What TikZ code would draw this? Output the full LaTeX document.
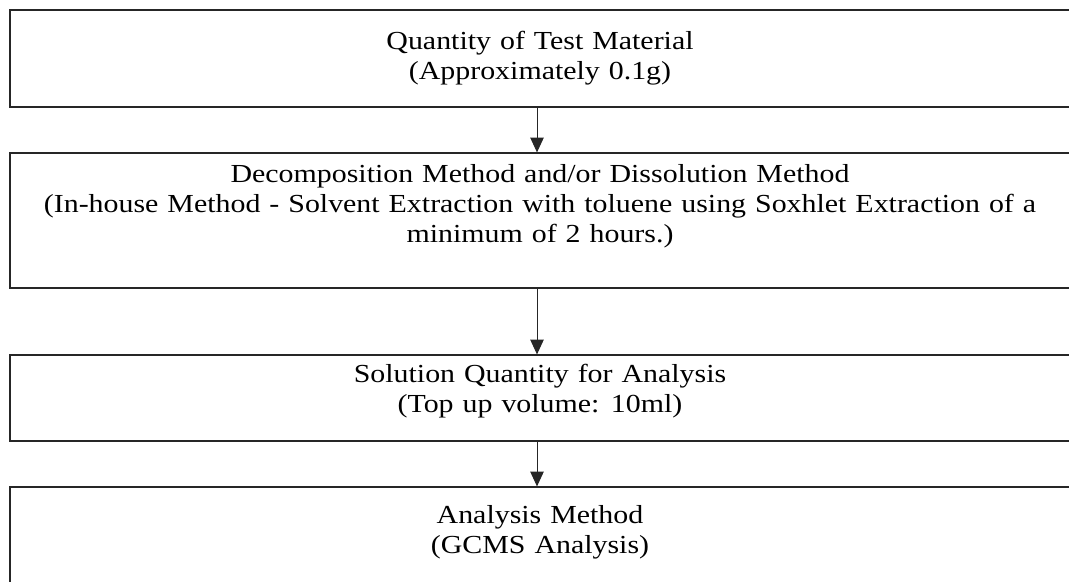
\documentclass[tikz,border=0pt]{standalone}
\usepackage{fontspec}
\setmainfont{Liberation Serif}[FakeStretch=1.15,WordSpace=1.2]
\usetikzlibrary{arrows.meta}
\begin{document}
\begin{tikzpicture}[x=0.75pt,y=-0.75pt,
  stepbox/.style={draw=black!85, line width=0.9pt, rectangle, inner sep=0pt},
  txt/.style={align=center, inner sep=0pt, font=\fontsize{19.5pt}{22.5pt}\selectfont},
  arr/.style={draw=black!85, line width=0.75pt, -{Triangle[length=11pt,width=10pt]}}]
\clip (0,0) rectangle (1069,581);
% boxes (right edges run past the page)
\node[stepbox, minimum width=1065*0.75pt, minimum height=97*0.75pt] (b1) at (542.5,58.5) {};
\node[stepbox, minimum width=1065*0.75pt, minimum height=135*0.75pt] (b2) at (542.5,220.5) {};
\node[stepbox, minimum width=1065*0.75pt, minimum height=86*0.75pt] (b3) at (542.5,398) {};
\node[stepbox, minimum width=1065*0.75pt, minimum height=120*0.75pt] (b4) at (542.5,547) {};
% texts
\node[txt] (t1) at (540,58) {Quantity of Test Material\\(Approximately 0.1g)};
\node[txt] (t2) at (540,206) {Decomposition Method and/or Dissolution Method\\(In-house Method - Solvent Extraction with toluene using Soxhlet Extraction of a\\minimum of 2 hours.)};
\node[txt] (t3) at (540,391) {Solution Quantity for Analysis\\(Top up volume: 10ml)};
\node[txt] (t4) at (540,532) {Analysis Method\\(GCMS Analysis)};
% connectors
\coordinate (ax) at (537,0);
\draw[arr] (b1.south -| ax) -- (b2.north -| ax);
\draw[arr] (b2.south -| ax) -- (b3.north -| ax);
\draw[arr] (b3.south -| ax) -- (b4.north -| ax);
\end{tikzpicture}
\end{document}
